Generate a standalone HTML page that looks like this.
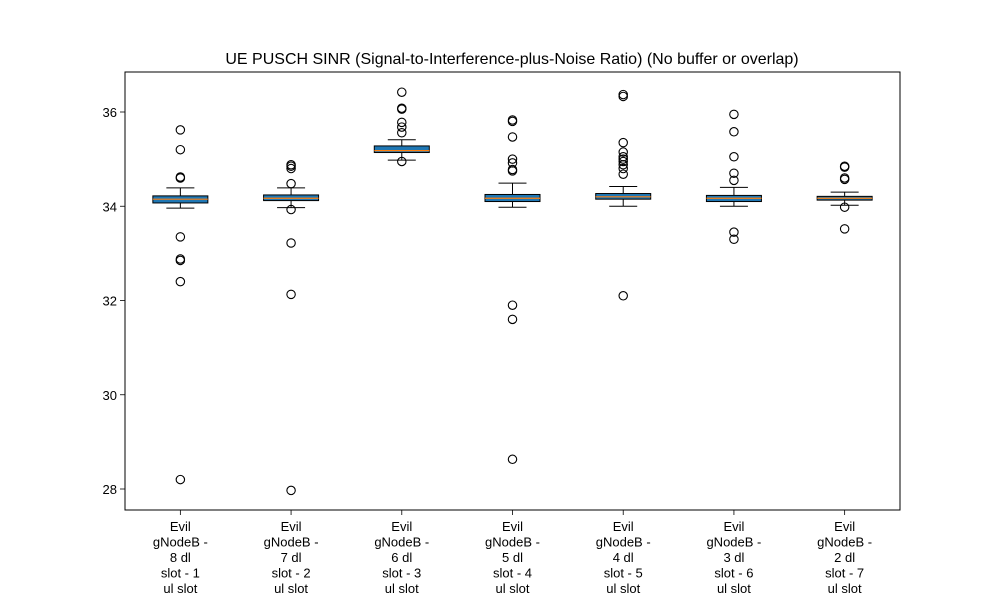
<!DOCTYPE html>
<html><head><meta charset="utf-8"><style>
body{margin:0;background:#fff}
svg text{font-family:"Liberation Sans","DejaVu Sans",sans-serif;fill:#000}
</style></head><body>
<svg id="chart" width="1000" height="600" xmlns="http://www.w3.org/2000/svg"></svg>
<script>
const categories=["Evil|gNodeB -|8 dl|slot - 1|ul slot","Evil|gNodeB -|7 dl|slot - 2|ul slot","Evil|gNodeB -|6 dl|slot - 3|ul slot","Evil|gNodeB -|5 dl|slot - 4|ul slot","Evil|gNodeB -|4 dl|slot - 5|ul slot","Evil|gNodeB -|3 dl|slot - 6|ul slot","Evil|gNodeB -|2 dl|slot - 7|ul slot"];
const whiskerLow=[33.96,33.97,34.98,33.98,34.0,34.0,34.02];
const q1=[34.07,34.12,35.14,34.1,34.15,34.1,34.13];
const medians=[34.15,34.17,35.18,34.17,34.2,34.17,34.17];
const q3=[34.22,34.24,35.28,34.25,34.27,34.23,34.21];
const whiskerHigh=[34.39,34.39,35.41,34.49,34.42,34.4,34.3];
const outliers=[
[35.62,35.2,34.62,34.6,33.35,32.88,32.85,32.4,28.2],
[34.88,34.85,34.8,34.48,33.93,33.22,32.13,27.97],
[36.42,36.08,36.06,35.78,35.68,35.56,34.95],
[35.83,35.8,35.47,35.0,34.92,34.78,34.75,31.9,31.6,28.63],
[36.37,36.33,35.35,35.15,35.05,35.0,34.95,34.88,34.8,34.68,32.1],
[35.95,35.58,35.05,34.7,34.55,33.45,33.3],
[34.85,34.83,34.6,34.57,33.98,33.52]];
const yTicks=[28,30,32,34,36];

const svg=document.getElementById('chart');
const NS='http://www.w3.org/2000/svg';
const L=125,R=900,T=72,B=510;
const y=v=>112+(36-v)*47.125;
const x=i=>L+(i+0.5)*(R-L)/categories.length;
function mk(tag,attrs,parent){const e=document.createElementNS(NS,tag);for(const k in attrs)e.setAttribute(k,attrs[k]);(parent||svg).appendChild(e);return e;}

const title=mk('text',{x:512,y:64,'text-anchor':'middle','font-size':16});
title.textContent='UE PUSCH SINR (Signal-to-Interference-plus-Noise Ratio) (No buffer or overlap)';



yTicks.forEach(t=>{
  const g=mk('g',{});
  
  
  mk('line',{x1:L-5,x2:L,y1:y(t),y2:y(t),stroke:'#000','stroke-width':0.8},g);
  const tx=mk('text',{x:L-8,y:y(t)+5,'text-anchor':'end','font-size':13},g);
  tx.textContent=t;
});

categories.forEach((c,i)=>{
  const cx=x(i),hw=27.5,cw=14;
  const g=mk('g',{});
  
  
  mk('line',{x1:cx,x2:cx,y1:y(q3[i]),y2:y(whiskerHigh[i]),stroke:'#000','stroke-width':1},g);
  mk('line',{x1:cx,x2:cx,y1:y(q1[i]),y2:y(whiskerLow[i]),stroke:'#000','stroke-width':1},g);
  mk('line',{x1:cx-cw,x2:cx+cw,y1:y(whiskerHigh[i]),y2:y(whiskerHigh[i]),stroke:'#000','stroke-width':1},g);
  mk('line',{x1:cx-cw,x2:cx+cw,y1:y(whiskerLow[i]),y2:y(whiskerLow[i]),stroke:'#000','stroke-width':1},g);
  mk('rect',{x:cx-hw,y:y(q3[i]),width:2*hw,height:y(q1[i])-y(q3[i]),fill:'#1f77b4',stroke:'#000','stroke-width':1},g);
  mk('line',{x1:cx-hw,x2:cx+hw,y1:y(medians[i]),y2:y(medians[i]),stroke:'#ff7f0e','stroke-width':1.2},g);
  outliers[i].forEach(v=>{
    const o=mk('circle',{cx:cx,cy:y(v),r:4.2,fill:'none',stroke:'#000','stroke-width':1.1},g);
    
    
  });
  const lab=mk('g',{});
  
  
  mk('line',{x1:cx,x2:cx,y1:B,y2:B+5,stroke:'#000','stroke-width':0.8},lab);
  c.split('|').forEach((ln,j)=>{
    const t=mk('text',{x:cx,y:531+j*15.5,'text-anchor':'middle','font-size':13},lab);
    t.textContent=ln;
  });
});

const frame=mk('rect',{x:L,y:T,width:R-L,height:B-T,fill:'none',stroke:'#000','stroke-width':1});


</script>
</body></html>
